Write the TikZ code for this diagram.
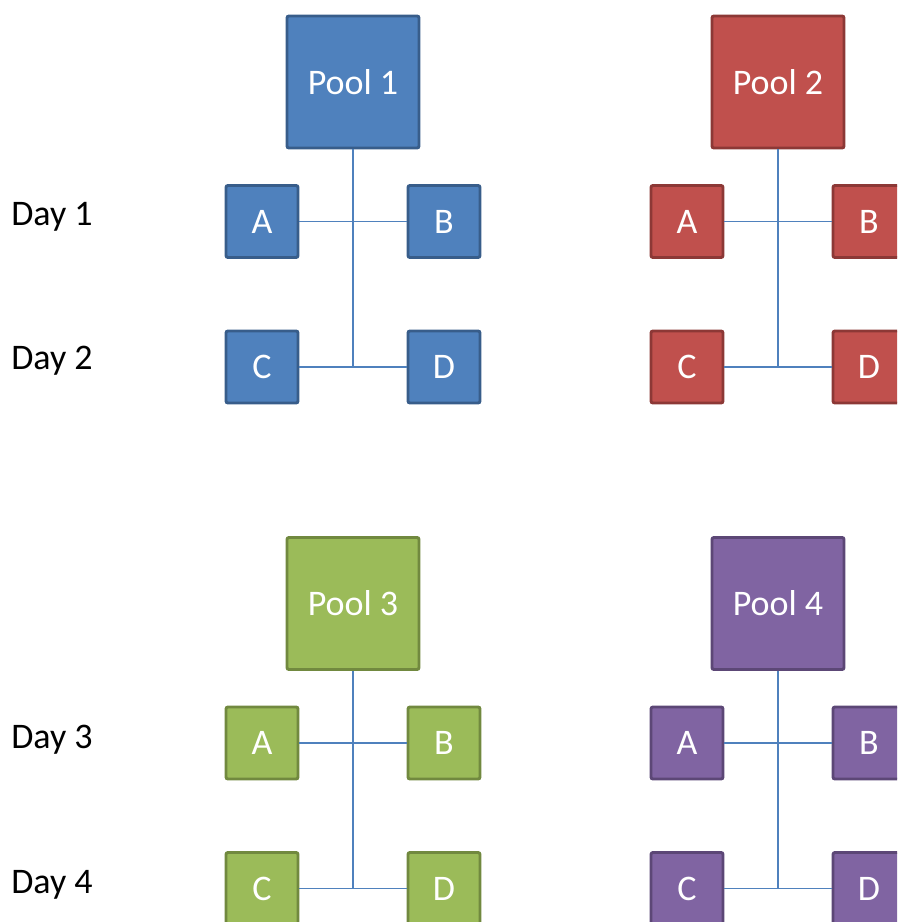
\documentclass[tikz,border=0pt]{standalone}
\usepackage{fontspec}
\setmainfont{Carlito}
\usepackage{tikz}

\definecolor{poolblue}{HTML}{4F81BD}
\definecolor{poolblueline}{HTML}{385D8A}
\definecolor{poolred}{HTML}{C0504D}
\definecolor{poolredline}{HTML}{8C3836}
\definecolor{poolgreen}{HTML}{9BBB59}
\definecolor{poolgreenline}{HTML}{71893F}
\definecolor{poolpurple}{HTML}{8064A2}
\definecolor{poolpurpleline}{HTML}{5C4776}
\definecolor{linkblue}{HTML}{4F81BD}

\tikzset{
  poolbox/.style={draw, line width=2.2pt, rounded corners=1.5pt, minimum size=99pt,
    inner sep=0pt, text=white, font=\fontsize{27}{27}\selectfont},
  teambox/.style={draw, line width=2.2pt, rounded corners=1.5pt, minimum size=54pt,
    inner sep=0pt, text=white, font=\fontsize{27}{27}\selectfont},
  link/.style={linkblue, line width=1.4pt},
  daylabel/.style={anchor=base west, inner sep=0pt, font=\fontsize{27}{27}\selectfont}
}

\begin{document}
\begin{tikzpicture}[x=0.75pt, y=-0.75pt]
    \useasboundingbox (0,0) rectangle (897,922);
    \clip (0,0) rectangle (897,922);
    % day labels
    \node[daylabel] (day1) at (11,225) {Day 1};
    \node[daylabel] (day2) at (11,369) {Day 2};
    \node[daylabel] (day3) at (11,748) {Day 3};
    \node[daylabel] (day4) at (11,893) {Day 4};
    % one pool with its four teams
    \foreach \i/\px/\py/\col in {1/353/82/poolblue, 2/778/82/poolred,
                                 3/353/603.5/poolgreen, 4/778/603.5/poolpurple}{
        \node[poolbox, fill=\col, draw=\col line] (p\i) at (\px,\py) {Pool \i};
        \node[teambox, fill=\col, draw=\col line] (p\i a) at (\px-91,\py+139.5) {A};
        \node[teambox, fill=\col, draw=\col line] (p\i b) at (\px+91,\py+139.5) {B};
        \node[teambox, fill=\col, draw=\col line] (p\i c) at (\px-91,\py+285) {C};
        \node[teambox, fill=\col, draw=\col line] (p\i d) at (\px+91,\py+285) {D};
        \coordinate (p\i j) at (p\i.south |- p\i c.east);
        \draw[link] (p\i.south) -- (p\i j);
        \draw[link] (p\i a) -- (p\i b);
        \draw[link] (p\i c) -- (p\i d);
    }
\end{tikzpicture}
\end{document}
